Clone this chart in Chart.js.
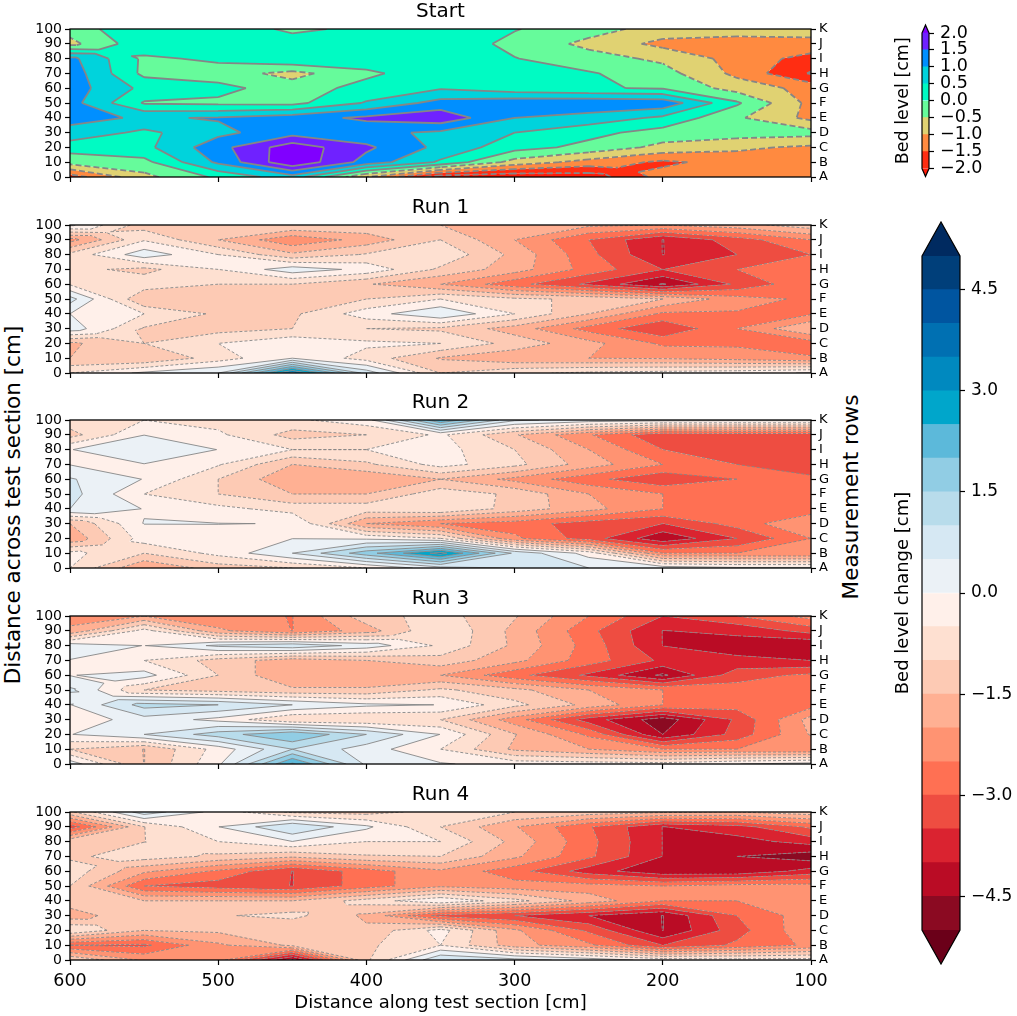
<!DOCTYPE html>
<html>
<head>
<meta charset="utf-8">
<title>Bed level</title>
<script src="https://cdn.jsdelivr.net/npm/chart.js@4"></script>
<style>
    body { margin: 0; background: #fff; font-family: "DejaVu Sans", sans-serif; }
    #page { position: relative; width: 1017px; height: 1016px; overflow: hidden; }
    canvas { position: absolute; }
    .sideLabel { position: absolute; font-size: 21.5px; white-space: nowrap; color: #000;
                 transform: translate(-50%, -50%) rotate(-90deg); }
</style>
</head>
<body>
<div id="page">
    <div class="sideLabel" style="left:12px;top:505px">Distance across test section [cm]</div>
    <div class="sideLabel" style="left:850px;top:497px">Measurement rows</div>
</div>
<script>
const distanceAlong = [600, 550, 500, 450, 400, 350, 300, 250, 200, 150, 100];
const distanceAcross = [100, 90, 80, 70, 60, 50, 40, 30, 20, 10, 0];
const rowLetters = ["A", "B", "C", "D", "E", "F", "G", "H", "I", "J", "K"];
const alongTicks = [600, 500, 400, 300, 200, 100];

const startRows = [
    [-.3, .45, .4, -.13, .15, .2, .03, -.3, -.7, -.8, -.8],
    [-.65, .35, .45, .3, .4, .35, -.15, -.63, -1.15, -1.2, -1.15],
    [1.15, -.1, .1, .45, .3, .35, .02, -.3, -.6, -1.19, -1.7],
    [1.3, -.13, -.25, -.67, -.1, .3, .15, .05, -.3, -1.13, -2.05],
    [1.25, .37, .15, -.25, .17, .45, .2, .05, -.05, -.71, -1.17],
    [1.2, -.05, -.1, -.15, .55, 1.2, 1.35, 1.4, 1.35, .08, -1.16],
    [1.15, .94, 1.04, 1.29, 1.6, 1.85, 1, .8, .4, -.42, -1.14],
    [.85, .38, .87, 1.3, 1.15, .9, .5, .15, -.2, -.25, -.3],
    [.2, .36, 1.32, 2.3, 1.6, .86, .2, -.15, -.65, -.9, -1.1],
    [-.3, -.15, 1.1, 2.42, 1.3, .42, -.7, -1.2, -1.6, -1.3, -1.25],
    [-1.75, -.65, .1, .8, -1, -2.3, -2.4, -2.3, -1.3, -1.3, -1.2]
];
const run1Rows = [
    [.1, -1.25, -1.2, -1, -1.1, -1.5, -1.7, -1.9, -2, -1.7, -1.2],
    [-2.2, -.55, -1.5, -2.4, -1.8, -1, -2, -3, -4.01, -3.25, -2.5],
    [-.85, .3, -.5, -1.4, -.95, -.6, -1.65, -2.85, -4.01, -3.5, -3],
    [-.85, -1.15, -.5, .3, -.15, -1.1, -1.77, -2.7, -3.5, -3, -2.75],
    [-.55, -.7, -1, -1, -1.45, -2, -2.83, -3.6, -4.55, -3.4, -2.6],
    [.7, -1.5, -1.5, -1.5, -1, -.5, -.9, -1.1, -1.5, -2.3, -2.6],
    [0, -.5, -1.1, -1.1, -.23, .45, -.5, -1.5, -2.6, -2.55, -2.55],
    [.3, -1.05, -1.2, -1, -1, -1.1, -1.73, -2.7, -3.45, -2.5, -1.5],
    [-1.6, -1, -.5, -.1, -.4, -.5, -1.2, -1.83, -2.6, -2.6, -2.75],
    [-1.5, -1.5, -.75, 0, -.72, -1.55, -1.9, -2, -2.05, -2.2, -2.45],
    [-.5, .1, .5, 3.6, .8, -1, -.6, -.4, -.3, -.2, .05]
];
const run2Rows = [
    [-.7, -.5, -.7, -.6, -.2, 2.5, .6, .3, .2, .15, .15],
    [-1.2, -.01, -.4, -1.2, -1, -.4, -1.45, -2.45, -3.4, -3.3, -3.3],
    [-.02, .45, -.01, -.5, -.5, -.3, -1, -2, -3, -3.4, -3.4],
    [-.02, -.02, -.45, -1.5, -1.1, -.3, -.85, -1.75, -2.5, -3, -3.4],
    [.55, -.02, -1, -1.9, -1.95, -1.5, -2.15, -2.85, -3.4, -3, -2.85],
    [.7, -.5, -1, -1.5, -1.5, -.7, -1.1, -2, -2.5, -2.7, -2.8],
    [.5, -.02, -.35, -.7, -.7, -.5, -1.2, -1.83, -2.5, -2.8, -2.8],
    [-1.5, .01, .01, -.01, -2, -2.5, -2.75, -3.25, -3.5, -2.8, -2],
    [-1.9, -.25, -.2, -.01, -.1, -.5, -2.4, -3.25, -4.4, -3.5, -2.5],
    [-.35, -1, -.35, .5, 1.8, 3.2, .9, -.2, -2.5, -2.5, -2.5],
    [-.5, -2, -1.25, -1, -.5, .3, .5, .5, .3, .1, .1]
];
const run3Rows = [
    [-2.2, -2, -2.4, -2.51, -1.2, -.8, -1.45, -2.5, -3.5, -3, -2.3],
    [-1.9, -.3, -1.9, -2.51, -1.75, -.5, -1.65, -2.85, -4.01, -3.9, -3.3],
    [.3, -.01, .6, .9, .3, -.6, -1.6, -2.7, -4.01, -4.2, -4.5],
    [-.02, -.5, -1.2, -1.8, -1.5, -1.2, -1.85, -2.75, -3.6, -3.9, -4],
    [-.02, .2, -1, -2, -2, -2, -2.85, -3.6, -4.6, -3.2, -2.9],
    [.6, -1, -1.2, -1.4, -1.4, -.9, -1.35, -2, -2.5, -2.8, -2.8],
    [-.02, 1.2, 1, .5, .1, -.01, -.85, -1.65, -2.5, -2.8, -2.7],
    [-.4, .3, -.15, -1, -1, -1, -2.27, -3.75, -4.8, -3.4, -1.8],
    [-.02, .5, 1.25, 2, 1, -.01, -1.47, -2.6, -4.5, -3.3, -1.95],
    [-1, -1.51, -.3, 1, .25, -.5, -1.6, -2, -2.5, -2.5, -2.5],
    [.3, -1.51, -.1, 2.6, .4, .05, -.2, -.25, -.3, -.01, .2]
];
const run4Rows = [
    [-1.1, .8, -.2, -1.1, -1.2, -.8, -1, -1.2, -1.4, -1.5, -1.2],
    [-3.3, -1.01, -.01, 1, .1, -1, -1.96, -2.95, -4.01, -3.7, -2.9],
    [-1.1, -1.01, -.5, -.01, -.5, -.5, -1.66, -2.85, -4.01, -4.2, -3.8],
    [-1.1, -.75, -1.1, -1.4, -1.05, -1, -1.9, -2.9, -4.01, -4.5, -4.8],
    [-.7, -1.9, -2.6, -3.51, -2.75, -2.1, -2.8, -3.75, -4.4, -4.4, -3.8],
    [-1, -3, -3.25, -3.51, -2.75, -2.1, -2.3, -2.3, -2.5, -2.3, -2.3],
    [-1.2, -1.5, -1.5, -1.5, -.78, -.05, -.83, -1.7, -2.5, -2.5, -2.1],
    [-1.8, -1, -1.05, -.85, -1.6, -3.2, -3.5, -4, -4.51, -3, -2.2],
    [-.5, -1.5, -1.4, -1.5, -1.4, -.3, -1.9, -3.1, -4.51, -3.2, -2.1],
    [-3, -3.1, -2.1, -1.4, -1.1, -.5, -1.8, -2.4, -3.5, -2.9, -2.4],
    [-1, -2.1, -2.3, -4.7, -1.1, 1, .7, .3, -.2, -.3, -.3]
];

const startLevels = [-2, -1.5, -1, -.5, 0, .5, 1, 1.5, 2];
const startColors = ["#ff1a08", "#ff2d12", "#ff8a40", "#e0d272", "#66fb9b", "#00fbc3", "#00d3dc", "#008fff", "#6f22ff", "#8000ff"];
const startTicks = [-2, -1.5, -1, -.5, 0, .5, 1, 1.5, 2];

const changeLevels = [-5, -4.5, -4, -3.5, -3, -2.5, -2, -1.5, -1, -.5, 0, .5, 1, 1.5, 2, 2.5, 3, 3.5, 4, 4.5, 5];
const changeColors = ["#6b0019", "#8b0a22", "#ba0c25", "#da2330", "#ee4d41", "#ff7053", "#ff9372", "#ffb093", "#fdcab4", "#fee0d1", "#fff0ea",
    "#ebf1f6", "#d6e8f3", "#b8dceb", "#91cde4", "#5cb9da", "#00a6cb", "#0089bf", "#0070b2", "#0055a0", "#003f7a", "#002a60"];
const changeTicks = [-4.5, -3, -1.5, 0, 1.5, 3, 4.5];

// marching squares on one grid cell, clipped to a band of values
function clipPolygon(points, level, keepAbove) {
    const out = [];
    for (let i = 0; i < points.length; i++) {
        const a = points[i];
        const b = points[(i + 1) % points.length];
        const aIn = keepAbove ? a.z >= level : a.z <= level;
        const bIn = keepAbove ? b.z >= level : b.z <= level;
        if (aIn) out.push(a);
        if (aIn !== bIn) {
            const t = (level - a.z) / (b.z - a.z);
            out.push({ x: a.x + (b.x - a.x) * t, y: a.y + (b.y - a.y) * t, z: level });
        }
    }
    return out;
}

function isSaddle(corners, level) {
    let changes = 0;
    for (let i = 0; i < 4; i++) {
        if ((corners[i].z >= level) !== (corners[(i + 1) % 4].z >= level)) changes++;
    }
    return changes === 4;
}

function splitCell(corners) {
    const centre = {
        x: corners.reduce((s, c) => s + c.x, 0) / 4,
        y: corners.reduce((s, c) => s + c.y, 0) / 4,
        z: corners.reduce((s, c) => s + c.z, 0) / 4
    };
    return corners.map((c, i) => [c, corners[(i + 1) % 4], centre]);
}

function addPolygon(ctx, points) {
    if (points.length < 3) return;
    ctx.moveTo(points[0].x, points[0].y);
    points.slice(1).forEach(p => ctx.lineTo(p.x, p.y));
    ctx.closePath();
}

function levelSegments(shape, level) {
    const cuts = [];
    for (let i = 0; i < shape.length; i++) {
        const a = shape[i];
        const b = shape[(i + 1) % shape.length];
        if ((a.z >= level) !== (b.z >= level)) {
            const t = (level - a.z) / (b.z - a.z);
            cuts.push({ x: a.x + (b.x - a.x) * t, y: a.y + (b.y - a.y) * t });
        }
    }
    return cuts;
}

const contourPlugin = {
    id: "contour",
    beforeDatasetsDraw(chart, args, opts) {
        const ctx = chart.ctx;
        const area = chart.chartArea;
        const xs = distanceAlong.map(v => chart.scales.x.getPixelForValue(v));
        const ys = distanceAcross.map(v => chart.scales.y.getPixelForValue(v));
        const levels = opts.levels;
        const shapes = [];
        for (let r = 0; r < ys.length - 1; r++) {
            for (let c = 0; c < xs.length - 1; c++) {
                const cell = [
                    { x: xs[c], y: ys[r], z: opts.rows[r][c] },
                    { x: xs[c + 1], y: ys[r], z: opts.rows[r][c + 1] },
                    { x: xs[c + 1], y: ys[r + 1], z: opts.rows[r + 1][c + 1] },
                    { x: xs[c], y: ys[r + 1], z: opts.rows[r + 1][c] }
                ];
                // a saddle at any level splits the cell for every band, so bands still meet
                if (levels.some(l => isSaddle(cell, l))) shapes.push(...splitCell(cell));
                else shapes.push(cell);
            }
        }
        ctx.save();
        ctx.beginPath();
        ctx.rect(area.left, area.top, area.width, area.height);
        ctx.clip();
        opts.colors.forEach((color, b) => {
            const lo = b === 0 ? -Infinity : levels[b - 1];
            const hi = b === levels.length ? Infinity : levels[b];
            ctx.beginPath();
            shapes.forEach(shape => {
                let poly = shape;
                if (isFinite(lo)) poly = clipPolygon(poly, lo, true);
                if (isFinite(hi) && poly.length) poly = clipPolygon(poly, hi, false);
                addPolygon(ctx, poly);
            });
            ctx.fillStyle = color;
            ctx.fill();
        });
        ctx.strokeStyle = opts.lineColor;
        ctx.lineWidth = opts.lineWidth;
        levels.forEach(level => {
            ctx.setLineDash(level < 0 ? opts.dash : []);
            ctx.beginPath();
            shapes.forEach(shape => {
                const cuts = levelSegments(shape, level);
                for (let i = 0; i + 1 < cuts.length; i += 2) {
                    ctx.moveTo(cuts[i].x, cuts[i].y);
                    ctx.lineTo(cuts[i + 1].x, cuts[i + 1].y);
                }
            });
            ctx.stroke();
        });
        ctx.restore();
    },
    afterDraw(chart) {
        const ctx = chart.ctx;
        const a = chart.chartArea;
        ctx.save();
        ctx.strokeStyle = "#000";
        ctx.lineWidth = 1.3;
        ctx.strokeRect(a.left, a.top, a.width, a.height);
        ctx.restore();
    }
};

function makeCanvas(left, top, width, height) {
    const canvas = document.createElement("canvas");
    canvas.width = width;
    canvas.height = height;
    canvas.style.left = left + "px";
    canvas.style.top = top + "px";
    document.getElementById("page").appendChild(canvas);
    return canvas;
}

function renderPanel(title, rows, panelTop, levels, colors, lineWidth, dash, isLast) {
    const xHeight = isLast ? 56 : 12;
    const canvas = makeCanvas(0, panelTop - 31, 870, 31 + 148 + xHeight);
    const points = [];
    rows.forEach((row, r) => row.forEach((z, c) => points.push({ x: distanceAlong[c], y: distanceAcross[r] })));
    const tickSide = { color: "#000", drawOnChartArea: false, tickLength: 5, tickWidth: 1.2 };
    new Chart(canvas, {
        type: "scatter",
        data: { datasets: [{ data: points, pointRadius: 0, showLine: false }] },
        options: {
            responsive: false,
            animation: false,
            layout: { padding: 0 },
            plugins: {
                legend: { display: false },
                tooltip: { enabled: false },
                title: {
                    display: true,
                    text: title,
                    fullSize: false,
                    color: "#000",
                    font: { family: "DejaVu Sans", size: 20, weight: "normal" },
                    padding: { top: 2, bottom: 5 }
                },
                contour: { rows, levels, colors, lineColor: "#868686", lineWidth, dash }
            },
            scales: {
                x: {
                    type: "linear",
                    reverse: true,
                    min: 100,
                    max: 600,
                    grid: tickSide,
                    border: { display: false },
                    afterBuildTicks: s => { s.ticks = alongTicks.map(v => ({ value: v })); },
                    afterFit: s => { s.height = xHeight; },
                    ticks: {
                        display: isLast,
                        autoSkip: false,
                        color: "#000",
                        maxRotation: 0,
                        padding: 6,
                        font: { family: "DejaVu Sans", size: 17.5 }
                    },
                    title: {
                        display: isLast,
                        text: "Distance along test section [cm]",
                        color: "#000",
                        padding: { top: 0, bottom: 2 },
                        font: { family: "DejaVu Sans", size: 18 }
                    }
                },
                y: {
                    type: "linear",
                    position: "left",
                    min: 0,
                    max: 100,
                    grid: tickSide,
                    border: { display: false },
                    afterBuildTicks: s => { s.ticks = distanceAcross.map(v => ({ value: v })); },
                    afterFit: s => { s.width = 70; },
                    ticks: { autoSkip: false, color: "#000", padding: 3, font: { family: "DejaVu Sans", size: 14 } }
                },
                yRows: {
                    type: "linear",
                    position: "right",
                    min: 0,
                    max: 100,
                    grid: tickSide,
                    border: { display: false },
                    afterBuildTicks: s => { s.ticks = distanceAcross.map(v => ({ value: v })); },
                    afterFit: s => { s.width = 59; },
                    ticks: {
                        autoSkip: false,
                        color: "#000",
                        padding: 3,
                        font: { family: "DejaVu Sans", size: 13 },
                        callback: v => rowLetters[v / 10]
                    }
                }
            }
        },
        plugins: [contourPlugin]
    });
}

const extendPlugin = {
    id: "extend",
    afterDraw(chart, args, opts) {
        const ctx = chart.ctx;
        const a = chart.chartArea;
        const mid = (a.left + a.right) / 2;
        ctx.save();
        ctx.beginPath();
        ctx.moveTo(a.left, a.top);
        ctx.lineTo(mid, a.top - opts.tip);
        ctx.lineTo(a.right, a.top);
        ctx.closePath();
        ctx.fillStyle = opts.overColor;
        ctx.fill();
        ctx.beginPath();
        ctx.moveTo(a.left, a.bottom);
        ctx.lineTo(mid, a.bottom + opts.tip);
        ctx.lineTo(a.right, a.bottom);
        ctx.closePath();
        ctx.fillStyle = opts.underColor;
        ctx.fill();
        ctx.beginPath();
        ctx.moveTo(a.left, a.top);
        ctx.lineTo(mid, a.top - opts.tip);
        ctx.lineTo(a.right, a.top);
        ctx.lineTo(a.right, a.bottom);
        ctx.lineTo(mid, a.bottom + opts.tip);
        ctx.lineTo(a.left, a.bottom);
        ctx.closePath();
        ctx.strokeStyle = "#000";
        ctx.lineWidth = 1.2;
        ctx.stroke();
        ctx.restore();
    }
};

function renderColorbar(label, levels, colors, ticks, top, height, padTop, padBottom, tip, barWidth, fontSize, titleSize) {
    const canvas = makeCanvas(893, top, 124, height);
    const datasets = colors.slice(1, -1).map((color, i) => ({
        data: [[levels[i], levels[i + 1]]],
        backgroundColor: color,
        barPercentage: 1,
        categoryPercentage: 1,
        grouped: false,
        yAxisID: "y"
    }));
    new Chart(canvas, {
        type: "bar",
        data: { labels: [label], datasets },
        options: {
            responsive: false,
            animation: false,
            layout: { padding: { top: padTop, bottom: padBottom } },
            plugins: {
                legend: { display: false },
                tooltip: { enabled: false },
                extend: { tip, overColor: colors[colors.length - 1], underColor: colors[0] }
            },
            scales: {
                x: { display: false },
                y: {
                    position: "right",
                    min: levels[0],
                    max: levels[levels.length - 1],
                    grid: { color: "#000", drawOnChartArea: false, tickLength: 5, tickWidth: 1.2 },
                    border: { display: false },
                    afterBuildTicks: s => { s.ticks = ticks.map(v => ({ value: v })); },
                    afterFit: s => { s.width = 124 - 29 - barWidth; },
                    ticks: {
                        autoSkip: false,
                        color: "#000",
                        padding: 6,
                        font: { family: "DejaVu Sans", size: fontSize },
                        callback: v => v.toFixed(1).replace("-", "\u2212")
                    }
                },
                yTitle: {
                    position: "left",
                    min: levels[0],
                    max: levels[levels.length - 1],
                    grid: { display: false, drawTicks: false },
                    border: { display: false },
                    afterFit: s => { s.width = 29; },
                    ticks: { display: false },
                    title: {
                        display: true,
                        text: label,
                        color: "#000",
                        padding: 0,
                        font: { family: "DejaVu Sans", size: titleSize }
                    }
                }
            }
        },
        plugins: [extendPlugin]
    });
}

renderPanel("Start", startRows, 29, startLevels, startColors, 1.8, [6, 3], false);
renderPanel("Run 1", run1Rows, 225, changeLevels, changeColors, 0.9, [3, 2], false);
renderPanel("Run 2", run2Rows, 420, changeLevels, changeColors, 0.9, [3, 2], false);
renderPanel("Run 3", run3Rows, 616, changeLevels, changeColors, 0.9, [3, 2], false);
renderPanel("Run 4", run4Rows, 812, changeLevels, changeColors, 0.9, [3, 2], true);
renderColorbar("Bed level [cm]", startLevels, startColors, startTicks, 15, 170, 18, 13, 8, 7, 17.5, 17.5);
renderColorbar("Bed level change [cm]", changeLevels, changeColors, changeTicks, 215, 755, 41, 40, 34, 38, 17, 18);
</script>
</body>
</html>
